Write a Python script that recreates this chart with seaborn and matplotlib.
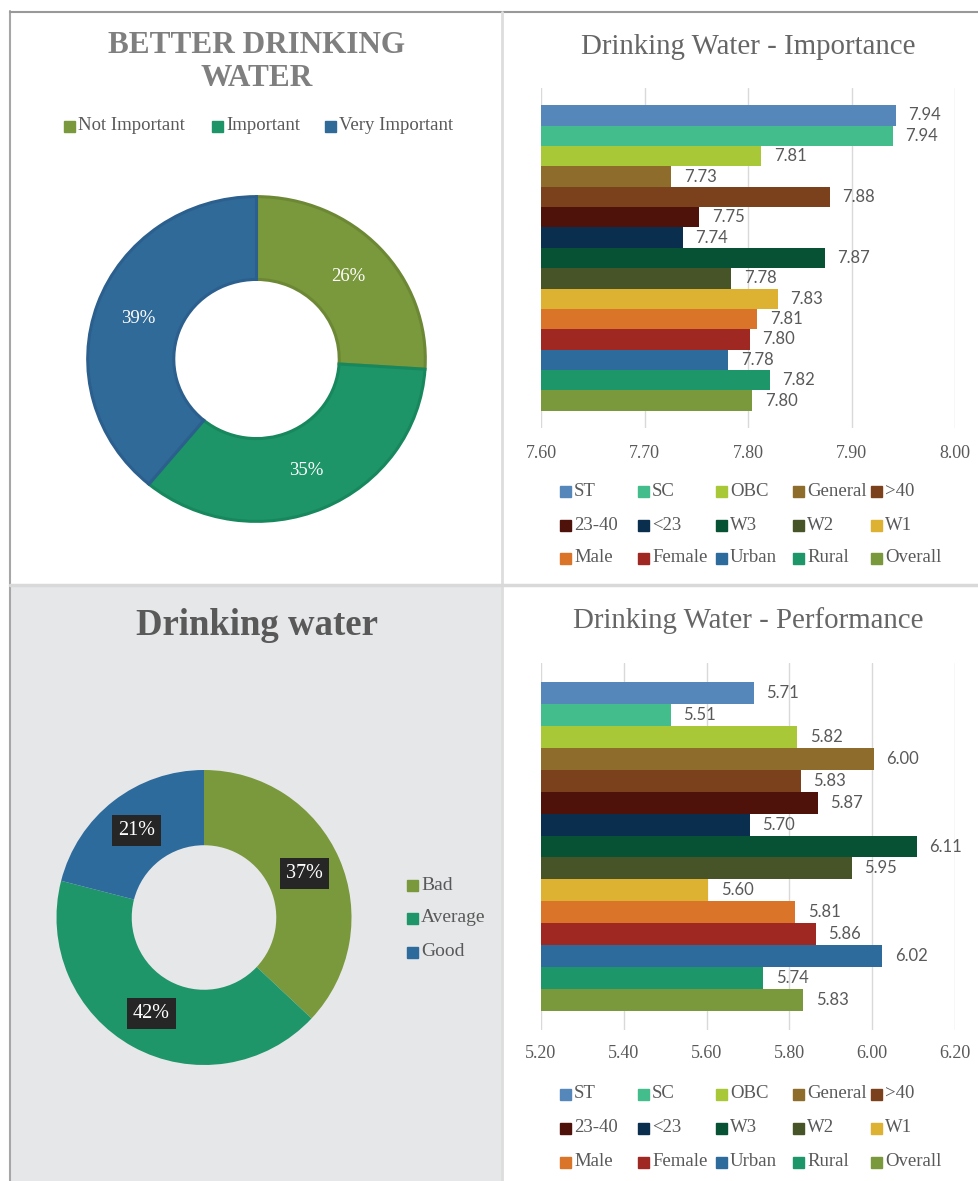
import matplotlib
matplotlib.use('Agg')
import matplotlib.pyplot as plt
from matplotlib.patches import Rectangle
from matplotlib.lines import Line2D
import seaborn as sns
import pandas as pd

W, H = 979, 1181
SERIF = ['Liberation Serif', 'DejaVu Serif']

# donut data
imp_labels = ['Not Important', 'Important', 'Very Important']
imp_share = [26, 35, 39]
imp_colors = ['#7A983C', '#1E9469', '#306A98']
imp_edges = ['#6C8834', '#17875E', '#2B5F8E']

perf_labels = ['Bad', 'Average', 'Good']
perf_share = [37, 42, 21]
perf_colors = ['#7A983C', '#1E9669', '#2D6B9D']

# bar data
groups = ['ST', 'SC', 'OBC', 'General', '>40', '23-40', '<23', 'W3', 'W2', 'W1',
          'Male', 'Female', 'Urban', 'Rural', 'Overall']
group_colors = ['#5687BA', '#43BD8C', '#A9C838', '#8E6D2C', '#7B401C', '#4F120B',
                '#0A2F4E', '#075234', '#465427', '#DDB232', '#D97428', '#A02823',
                '#2E6B9D', '#1D9669', '#7A983C']
importance = [7.943, 7.940, 7.813, 7.726, 7.879, 7.753, 7.737, 7.874, 7.784, 7.829,
              7.809, 7.802, 7.781, 7.821, 7.804]
performance = [5.714, 5.514, 5.819, 6.004, 5.828, 5.869, 5.704, 6.108, 5.951, 5.604,
               5.814, 5.864, 6.024, 5.737, 5.834]
imp_ticks = [7.60, 7.70, 7.80, 7.90, 8.00]
perf_ticks = [5.20, 5.40, 5.60, 5.80, 6.00, 6.20]

sns.set_theme(style='white')
plt.rcParams['font.family'] = SERIF

fig = plt.figure(figsize=(W / 100, H / 100), dpi=100)
fig.patch.set_facecolor('white')


def box(x0, y0, x1, y1):
    return [x0 / W, 1 - y1 / H, (x1 - x0) / W, (y1 - y0) / H]


def fx(x):
    return x / W


def fy(y):
    return 1 - y / H


# panel backgrounds and frames
fig.patches.append(Rectangle((fx(11), 0), fx(490), fy(587), transform=fig.transFigure,
                             color='#E6E7E9', zorder=-10))
fig.lines.append(Line2D([fx(10), fx(10)], [fy(11), 0], transform=fig.transFigure,
                        color='#A6A6A6', lw=1.5, zorder=-5))
fig.lines.append(Line2D([fx(10), 1], [fy(11.5), fy(11.5)], transform=fig.transFigure,
                        color='#999999', lw=1.5, zorder=-5))
fig.lines.append(Line2D([fx(502.5), fx(502.5)], [fy(12), 0], transform=fig.transFigure,
                        color='#DDDDDD', lw=2, zorder=-5))
fig.lines.append(Line2D([fx(10), 1], [fy(585), fy(585)], transform=fig.transFigure,
                        color='#D9D9D9', lw=2.5, zorder=-5))


def legend_item(x, y, label, color, size=13.5):
    fig.patches.append(Rectangle((fx(x), fy(y + 5.5)), 11 / W, 11 / H,
                                 transform=fig.transFigure, color=color))
    fig.text(fx(x + 14), fy(y), label, ha='left', va='center', fontsize=size,
             color='#595959', family=SERIF)


# ---- top left: importance donut
fig.text(fx(257), fy(62), 'BETTER DRINKING\nWATER', ha='center', va='center',
         fontsize=22.5, weight='bold', color='#7F7F7F', linespacing=1.15)
for lab, col, x in zip(imp_labels, imp_colors, [64, 212, 325]):
    legend_item(x, 126, lab, col, size=13.5)

ax1 = fig.add_axes(box(86, 195, 427, 523))
wedges, _, autos = ax1.pie(imp_share, colors=imp_colors, startangle=90, counterclock=False,
                           autopct='%1.0f%%', pctdistance=0.745,
                           wedgeprops=dict(width=0.51, linewidth=2.2),
                           textprops=dict(color='white', fontsize=13.5, family=SERIF))
for w, ec in zip(wedges, imp_edges):
    w.set_edgecolor(ec)
ax1.set_aspect('auto')
ax1.set_xlim(-1.01, 1.01)
ax1.set_ylim(-1.01, 1.01)
ax1.axis('off')

# ---- bottom left: performance donut
fig.text(fx(257), fy(625), 'Drinking water', ha='center', va='center',
         fontsize=26.5, weight='bold', color='#595959')
for lab, col, y in zip(perf_labels, perf_colors, [885, 918, 952]):
    legend_item(407, y, lab, col, size=14)

ax2 = fig.add_axes(box(56.5, 770, 351.5, 1065))
ax2.set_facecolor('none')
wedges, _, autos = ax2.pie(perf_share, colors=perf_colors, startangle=90, counterclock=False,
                           autopct='%1.0f%%', pctdistance=0.745,
                           wedgeprops=dict(width=0.51, linewidth=0),
                           textprops=dict(color='white', fontsize=14.5, family=SERIF))
for t in autos:
    t.set_bbox(dict(boxstyle='square,pad=0.3', fc='#262626', ec='none'))
ax2.set_aspect('equal')
ax2.set_xlim(-1, 1)
ax2.set_ylim(-1, 1)
ax2.axis('off')


# ---- right: bar charts
def bar_panel(rect, values, ticks, title, title_y, legend_rows, tick_pad):
    ax = fig.add_axes(rect)
    df = pd.DataFrame({'group': groups, 'value': values})
    sns.barplot(data=df, x='value', y='group', hue='group', order=groups, hue_order=groups,
                palette=dict(zip(groups, group_colors)), legend=False, width=1.0,
                saturation=1, linewidth=0, ax=ax)
    ax.set_xlim(ticks[0], ticks[-1])
    ax.set_ylim(len(groups) - 0.5 + 0.85, -0.5 - 0.85)
    ax.set_xticks(ticks)
    ax.set_xticklabels([f'{t:.2f}' for t in ticks], fontsize=13, color='#595959',
                       family=SERIF)
    ax.set_yticks([])
    ax.set_xlabel('')
    ax.set_ylabel('')
    ax.tick_params(axis='x', length=0, pad=tick_pad)
    ax.grid(axis='x', color='#D9D9D9', lw=1)
    ax.set_axisbelow(True)
    for s in ax.spines.values():
        s.set_visible(False)
    for c in ax.containers:
        ax.bar_label(c, fmt='%.2f', padding=9, fontsize=12, color='#595959', family='Lato')
    fig.text(fx(748), fy(title_y), title, ha='center', va='center', fontsize=20.8,
             color='#666666', family=SERIF)
    cols = [560, 638, 716, 793, 871]
    for i, (g, c) in enumerate(zip(groups, group_colors)):
        legend_item(cols[i % 5], legend_rows[i // 5], g, c)
    return ax


bar_panel(box(541, 88, 955, 428), importance, imp_ticks, 'Drinking Water - Importance',
          47, [491, 525, 558], 12)
bar_panel(box(541, 663, 955, 1030), performance, perf_ticks, 'Drinking Water - Performance',
          621, [1094, 1128, 1162], 11)

fig.savefig('out.png', dpi=100, facecolor='white')
